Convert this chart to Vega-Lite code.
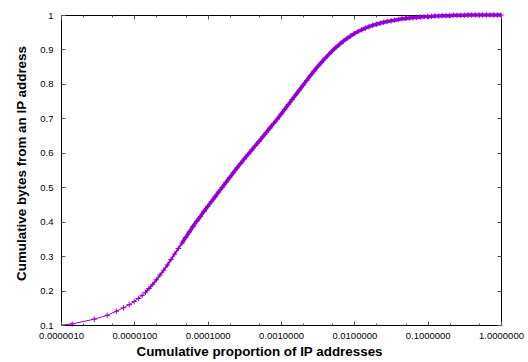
{
  "$schema": "https://vega.github.io/schema/vega-lite/v6.json",
  "width": 440,
  "height": 310,
  "autosize": "none",
  "padding": {"left": 61, "top": 15, "right": 27, "bottom": 37},
  "background": "white",
  "config": {
    "font": "Liberation Sans",
    "view": {"stroke": "#000000", "strokeWidth": 1},
    "axis": {
      "domain": false,
      "grid": false,
      "tickColor": "#555555",
      "tickWidth": 1,
      "labelColor": "#000000",
      "labelFontSize": 9.5,
      "labelFlush": false,
      "labelOverlap": false,
      "titleColor": "#000000",
      "titleFontSize": 13.4,
      "titleFontWeight": "bold"
    }
  },
  "data": {
    "values": [
      {"x": 1e-6, "y": 0.100},
      {"x": 1.42e-6, "y": 0.103},
      {"x": 2.84e-6, "y": 0.117},
      {"x": 4.26e-6, "y": 0.128},
      {"x": 5.68e-6, "y": 0.140},
      {"x": 7.10e-6, "y": 0.150},
      {"x": 8.52e-6, "y": 0.159},
      {"x": 9.94e-6, "y": 0.168},
      {"x": 1.136e-5, "y": 0.177},
      {"x": 1.278e-5, "y": 0.186},
      {"x": 1.42e-5, "y": 0.195},
      {"x": 1.585e-5, "y": 0.206},
      {"x": 1.778e-5, "y": 0.218},
      {"x": 1.995e-5, "y": 0.231},
      {"x": 2.239e-5, "y": 0.245},
      {"x": 2.512e-5, "y": 0.259},
      {"x": 2.818e-5, "y": 0.274},
      {"x": 3.162e-5, "y": 0.290},
      {"x": 3.548e-5, "y": 0.306},
      {"x": 3.981e-5, "y": 0.322},
      {"x": 4.467e-5, "y": 0.338},
      {"x": 5.012e-5, "y": 0.354},
      {"x": 5.623e-5, "y": 0.370},
      {"x": 6.310e-5, "y": 0.386},
      {"x": 7.079e-5, "y": 0.401},
      {"x": 7.943e-5, "y": 0.415},
      {"x": 8.913e-5, "y": 0.430},
      {"x": 1.000e-4, "y": 0.444},
      {"x": 1.122e-4, "y": 0.458},
      {"x": 1.259e-4, "y": 0.472},
      {"x": 1.413e-4, "y": 0.486},
      {"x": 1.585e-4, "y": 0.500},
      {"x": 1.778e-4, "y": 0.514},
      {"x": 1.995e-4, "y": 0.528},
      {"x": 2.239e-4, "y": 0.542},
      {"x": 2.512e-4, "y": 0.556},
      {"x": 2.818e-4, "y": 0.569},
      {"x": 3.162e-4, "y": 0.582},
      {"x": 3.548e-4, "y": 0.595},
      {"x": 3.981e-4, "y": 0.608},
      {"x": 4.467e-4, "y": 0.621},
      {"x": 5.012e-4, "y": 0.633},
      {"x": 5.623e-4, "y": 0.646},
      {"x": 6.310e-4, "y": 0.659},
      {"x": 7.079e-4, "y": 0.672},
      {"x": 7.943e-4, "y": 0.685},
      {"x": 8.913e-4, "y": 0.698},
      {"x": 1.000e-3, "y": 0.712},
      {"x": 1.122e-3, "y": 0.726},
      {"x": 1.259e-3, "y": 0.740},
      {"x": 1.413e-3, "y": 0.754},
      {"x": 1.585e-3, "y": 0.768},
      {"x": 1.778e-3, "y": 0.782},
      {"x": 1.995e-3, "y": 0.796},
      {"x": 2.239e-3, "y": 0.810},
      {"x": 2.512e-3, "y": 0.824},
      {"x": 2.818e-3, "y": 0.837},
      {"x": 3.162e-3, "y": 0.850},
      {"x": 3.548e-3, "y": 0.862},
      {"x": 3.981e-3, "y": 0.874},
      {"x": 4.467e-3, "y": 0.885},
      {"x": 5.012e-3, "y": 0.896},
      {"x": 5.623e-3, "y": 0.906},
      {"x": 6.310e-3, "y": 0.915},
      {"x": 7.079e-3, "y": 0.924},
      {"x": 7.943e-3, "y": 0.932},
      {"x": 8.913e-3, "y": 0.939},
      {"x": 1.000e-2, "y": 0.946},
      {"x": 1.122e-2, "y": 0.952},
      {"x": 1.259e-2, "y": 0.957},
      {"x": 1.413e-2, "y": 0.962},
      {"x": 1.585e-2, "y": 0.966},
      {"x": 1.778e-2, "y": 0.970},
      {"x": 1.995e-2, "y": 0.973},
      {"x": 2.239e-2, "y": 0.976},
      {"x": 2.512e-2, "y": 0.979},
      {"x": 2.818e-2, "y": 0.981},
      {"x": 3.162e-2, "y": 0.983},
      {"x": 3.548e-2, "y": 0.985},
      {"x": 3.981e-2, "y": 0.987},
      {"x": 4.467e-2, "y": 0.989},
      {"x": 5.012e-2, "y": 0.990},
      {"x": 5.623e-2, "y": 0.991},
      {"x": 6.310e-2, "y": 0.992},
      {"x": 7.079e-2, "y": 0.993},
      {"x": 7.943e-2, "y": 0.994},
      {"x": 8.913e-2, "y": 0.995},
      {"x": 0.1000, "y": 0.996},
      {"x": 0.1122, "y": 0.996},
      {"x": 0.1259, "y": 0.997},
      {"x": 0.1413, "y": 0.997},
      {"x": 0.1585, "y": 0.998},
      {"x": 0.1778, "y": 0.998},
      {"x": 0.1995, "y": 0.998},
      {"x": 0.2239, "y": 0.999},
      {"x": 0.2512, "y": 0.999},
      {"x": 0.2818, "y": 0.999},
      {"x": 0.3162, "y": 0.999},
      {"x": 0.3548, "y": 1.000},
      {"x": 0.3981, "y": 1.000},
      {"x": 0.4467, "y": 1.000},
      {"x": 0.5012, "y": 1.000},
      {"x": 0.5623, "y": 1.000},
      {"x": 0.6310, "y": 1.000},
      {"x": 0.7079, "y": 1.000},
      {"x": 0.7943, "y": 1.000},
      {"x": 0.8913, "y": 1.000},
      {"x": 1.0, "y": 1.000}
    ]
  },
  "layer": [
    {
      "mark": {"type": "line", "color": "#9400D3", "strokeWidth": 1, "clip": true},
      "encoding": {
        "x": {
          "field": "x",
          "type": "quantitative",
          "scale": {"type": "log", "domain": [1e-6, 1], "nice": false},
          "axis": {
            "orient": "bottom",
            "title": "Cumulative proportion of IP addresses",
            "titleX": 198,
            "values": [1e-6, 2e-6, 5e-6, 1e-5, 2e-5, 5e-5, 1e-4, 2e-4, 5e-4, 1e-3, 2e-3, 5e-3, 1e-2, 2e-2, 5e-2, 0.1, 0.2, 0.5, 1],
            "labelExpr": "abs(log(datum.value)/LN10 - round(log(datum.value)/LN10)) < 0.001 ? format(datum.value, '.7f') : ''",
            "tickSize": {"condition": {"test": "abs(log(datum.value)/LN10 - round(log(datum.value)/LN10)) < 0.001", "value": -4}, "value": -2},
            "labelPadding": 9,
            "titlePadding": 3
          }
        },
        "y": {
          "field": "y",
          "type": "quantitative",
          "scale": {"domain": [0.1, 1], "nice": false, "zero": false},
          "axis": {
            "orient": "left",
            "title": "Cumulative bytes from an IP address",
            "titleY": 148,
            "values": [0.1, 0.2, 0.3, 0.4, 0.5, 0.6, 0.7, 0.8, 0.9, 1],
            "format": "~g",
            "tickSize": -4,
            "labelPadding": 12,
            "titlePadding": 11
          }
        }
      }
    },
    {
      "transform": [{"filter": "datum.x >= 1.4e-5"}],
      "mark": {"type": "line", "color": "#9400D3", "strokeWidth": 2, "clip": true},
      "encoding": {
        "x": {"field": "x", "type": "quantitative", "axis": null},
        "y": {"field": "y", "type": "quantitative", "axis": null}
      }
    },
    {
      "transform": [{"filter": "datum.x >= 4e-5"}],
      "mark": {"type": "line", "color": "#9400D3", "strokeWidth": 3.5, "clip": false},
      "encoding": {
        "x": {"field": "x", "type": "quantitative", "axis": null},
        "y": {"field": "y", "type": "quantitative", "axis": null}
      }
    },
    {
      "transform": [{"filter": "datum.x > 1.2e-6"}],
      "mark": {
        "type": "point",
        "shape": "M-1,0L1,0M0,-1L0,1",
        "filled": false,
        "color": "#9400D3",
        "strokeWidth": 1,
        "size": 30,
        "opacity": 1
      },
      "encoding": {
        "x": {
          "field": "x",
          "type": "quantitative",
          "axis": {
            "orient": "top",
            "title": null,
            "labels": false,
            "values": [1e-6, 2e-6, 5e-6, 1e-5, 2e-5, 5e-5, 1e-4, 2e-4, 5e-4, 1e-3, 2e-3, 5e-3, 1e-2, 2e-2, 5e-2, 0.1, 0.2, 0.5, 1],
            "tickSize": {"condition": {"test": "abs(log(datum.value)/LN10 - round(log(datum.value)/LN10)) < 0.001", "value": -4}, "value": -2}
          }
        },
        "y": {
          "field": "y",
          "type": "quantitative",
          "axis": {
            "orient": "right",
            "title": null,
            "labels": false,
            "values": [0.1, 0.2, 0.3, 0.4, 0.5, 0.6, 0.7, 0.8, 0.9, 1],
            "tickSize": -4
          }
        }
      }
    }
  ],
  "resolve": {"axis": {"x": "independent", "y": "independent"}}
}
